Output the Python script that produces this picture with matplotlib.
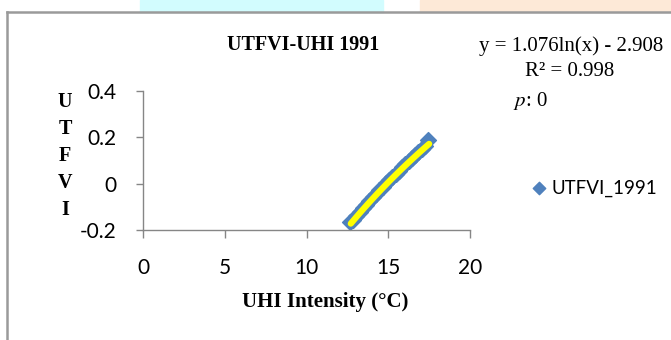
import matplotlib.pyplot as plt
import matplotlib.patches as mpatches
from matplotlib.lines import Line2D
import numpy as np

# data
uhi = [12.66, 12.85, 13.05, 13.25, 13.45, 13.65, 13.85, 14.05, 14.25, 14.45,
       14.65, 14.85, 15.05, 15.25, 15.45, 15.65, 15.85, 16.05, 16.25, 16.45,
       16.65, 16.85, 17.05, 17.25, 17.45]
utfvi = [-0.166, -0.155, -0.139, -0.122, -0.106, -0.090, -0.074, -0.058, -0.043, -0.028,
         -0.013, 0.001, 0.015, 0.029, 0.043, 0.056, 0.070, 0.083, 0.096, 0.109,
         0.122, 0.135, 0.148, 0.162, 0.190]
fit_a, fit_b = 1.076, -2.908
xticks = [0, 5, 10, 15, 20]
yticks = [-0.2, 0, 0.2, 0.4]
ytick_labels = ["-0.2", "0", "0.2", "0.4"]

W, H = 671, 340
fig = plt.figure(figsize=(W / 100, H / 100), dpi=100)

# watermark strip at the top and chart border
fig.patches.append(mpatches.Rectangle((140/W, 1-12/H), 243/W, 12/H,
                                      transform=fig.transFigure, color="#d2fcfe", zorder=0))
fig.patches.append(mpatches.Rectangle((420/W, 1-12/H), 251/W, 12/H,
                                      transform=fig.transFigure, color="#fde9d7", zorder=0))
fig.lines.append(Line2D([6.7/W, 6.7/W], [0, 1-12.3/H], transform=fig.transFigure,
                        color="#9a9a9a", lw=1.8))
fig.lines.append(Line2D([6.7/W, 1], [1-12.3/H, 1-12.3/H], transform=fig.transFigure,
                        color="#9a9a9a", lw=1.8))

ax = fig.add_axes([143/W, 1-230/H, 327/W, 139/H])
ax.scatter(uhi, utfvi, marker="D", s=65, color="#4f81bd", zorder=2, clip_on=False,
           label="UTFVI_1991")
xs = np.linspace(min(uhi) + 0.05, max(uhi) + 0.05, 100)
ax.plot(xs, fit_a * np.log(xs) + fit_b, color="#ffff00", lw=4.5,
        solid_capstyle="round", zorder=3)

ax.set_xlim(0, 20)
ax.set_ylim(-0.2, 0.4)
ax.set_xticks(xticks)
ax.set_yticks(yticks)
ax.set_yticklabels(ytick_labels)
for s in ["top", "right"]:
    ax.spines[s].set_visible(False)
for s in ["left", "bottom"]:
    ax.spines[s].set_color("#868686")
    ax.spines[s].set_linewidth(1.0)
ax.tick_params(colors="#868686", width=1.0, labelcolor="black", labelsize=15)
ax.tick_params(axis="y", length=5, pad=14)
ax.tick_params(axis="x", length=6, pad=14)
for lab in ax.get_xticklabels() + ax.get_yticklabels():
    lab.set_fontfamily("Lato")

serif = "Liberation Serif"
fig.text(227/W, 1-45/H, "UTFVI-UHI 1991", fontfamily=serif, fontweight="bold",
         fontsize=14.5, ha="left", va="center")
fig.text(663/W, 1-46/H, "y = 1.076ln(x) - 2.908", fontfamily=serif,
         fontsize=15, ha="right", va="center")
fig.text(570/W, 1-72/H, "R² = 0.998", fontfamily=serif,
         fontsize=15, ha="center", va="center")
fig.text(513/W, 1-101/H, "$\\it{p}$: 0", fontfamily=serif,
         fontsize=15, ha="left", va="center", math_fontfamily="stix")
fig.text(325/W, 1-302/H, "UHI Intensity (°C)", fontfamily=serif, fontweight="bold",
         fontsize=15, ha="center", va="center")
for i, ch in enumerate("UTFVI"):
    fig.text(65/W, 1-(102 + i * 27)/H, ch, fontfamily=serif, fontweight="bold",
             fontsize=14.5, ha="center", va="center")

leg = ax.legend(loc="center left", bbox_to_anchor=(524/W, 1-188/H),
                bbox_transform=fig.transFigure, frameon=False, handlelength=0.6,
                handletextpad=0.35, borderpad=0, prop={"family": "Lato", "size": 13.5})
leg.legend_handles[0].set_sizes([40])

fig.savefig("out.png", dpi=100)
